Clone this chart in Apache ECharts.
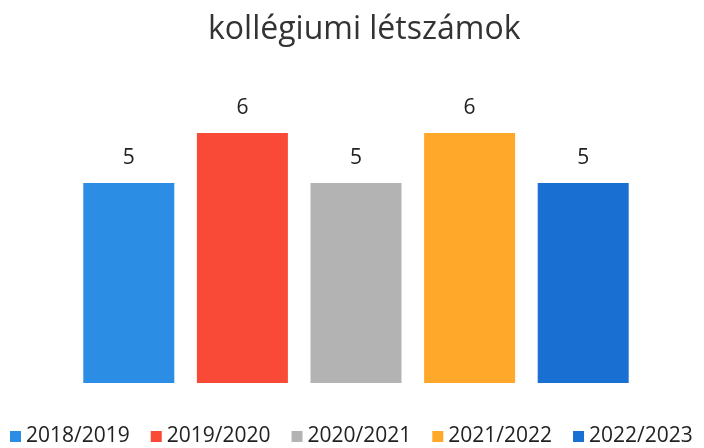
<!DOCTYPE html>
<html>
<head>
<meta charset="utf-8">
<script src="https://cdn.jsdelivr.net/npm/echarts@6/dist/echarts.min.js"></script>
<style>html,body{margin:0;padding:0;background:#fff}#c{width:704px;height:448px}</style>
</head>
<body>
<div id="c"></div>
<script>
var titleText = 'kollégiumi létszámok';
var years = ['2018/2019', '2019/2020', '2020/2021', '2021/2022', '2022/2023'];
var values = [5, 6, 5, 6, 5];
var colors = ['#2B8DE3', '#F94A38', '#B3B3B3', '#FFA82A', '#1A6FD3'];

var series = years.map(function (y, i) {
  var d = years.map(function (_, j) { return j === i ? values[i] : null; });
  return {
    name: y,
    type: 'bar',
    stack: 'all',
    barWidth: 91,
    data: d,
    itemStyle: { color: colors[i] },
    label: {
      show: true, position: 'top', distance: 14,
      fontFamily: 'Open Sans', fontSize: 21, color: '#222'
    }
  };
});

var chart = echarts.init(document.getElementById('c'));
chart.setOption({
  animation: false,
  title: {
    text: titleText, left: 203, top: 9,
    textStyle: { fontFamily: 'Open Sans', fontWeight: 'normal', fontSize: 32, color: '#333' }
  },
  legend: {
    data: years, bottom: 0, left: 10, width: 694, icon: 'rect', padding: [5, 0, 1, 0],
    itemWidth: 11, itemHeight: 11, itemGap: 21,
    textStyle: { fontFamily: 'Open Sans', fontSize: 21, color: '#222' }
  },
  grid: { left: 72, right: 64, top: 83, bottom: 65 },
  xAxis: {
    type: 'category', data: years,
    axisLine: { show: false }, axisTick: { show: false }, axisLabel: { show: false }
  },
  yAxis: {
    type: 'value', min: 1, max: 7, interval: 1,
    show: false, splitLine: { show: false }
  },
  series: series
});
</script>
</body>
</html>
